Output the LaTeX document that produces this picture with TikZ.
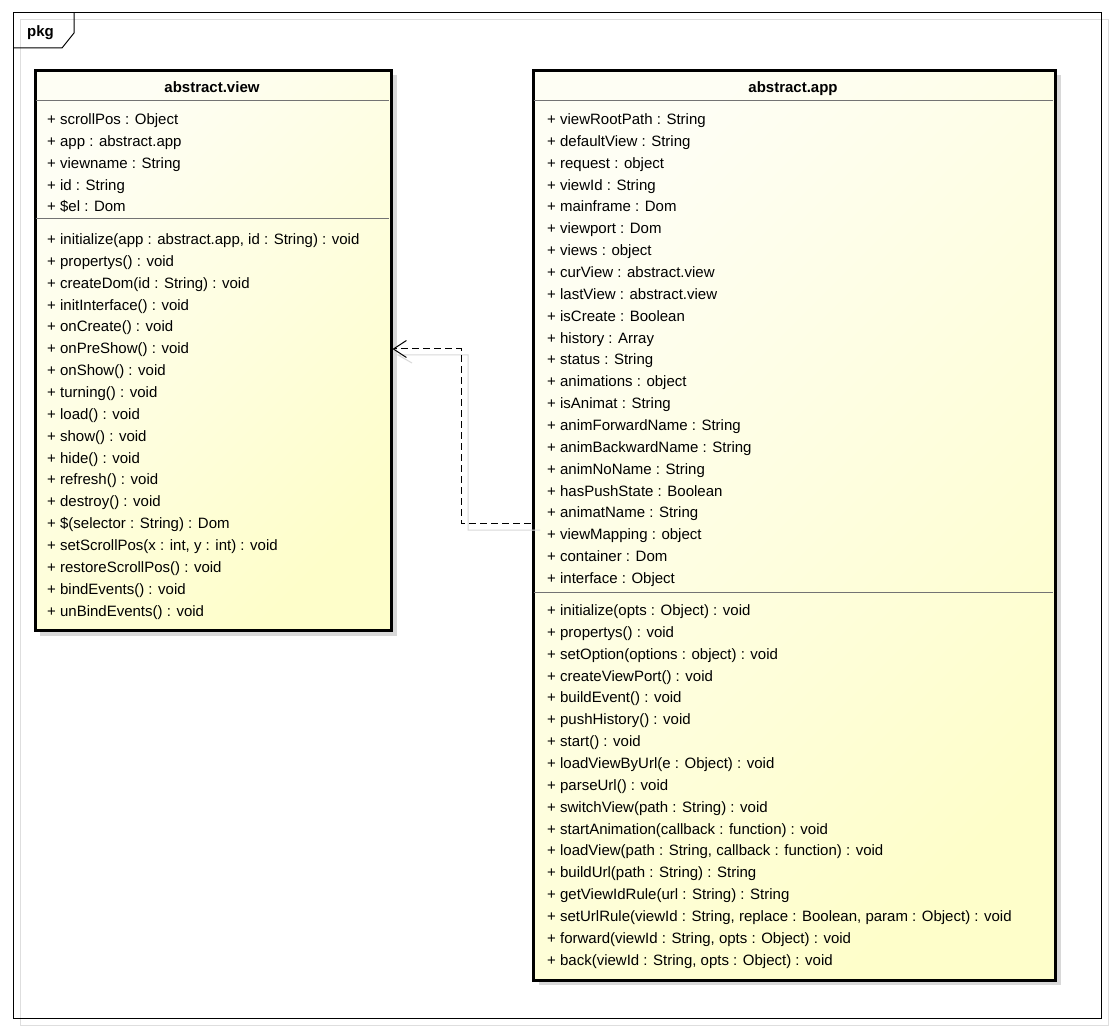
\documentclass[tikz,border=0pt]{standalone}
\usepackage{fontspec}
\setmainfont{Liberation Sans}
\usetikzlibrary{arrows.meta}
\definecolor{fillA}{RGB}{254,254,244}
\definecolor{fillB}{RGB}{254,254,202}
\definecolor{shadowgray}{RGB}{216,216,216}
\definecolor{framegray}{RGB}{222,222,222}
\tikzset{
  classbox/.style={draw=black, line width=3pt, rectangle, inner sep=0pt, anchor=north west,
    top color=fillA, bottom color=fillB, shading angle=45},
  boxshadow/.style={fill=shadowgray, draw=none},
  sepline/.style={draw=black!55, line width=1pt},
  member/.style={anchor=base west, inner sep=0pt, font=\fontsize{15}{18}\selectfont},
  title/.style={anchor=base, inner sep=0pt, font=\fontsize{15}{18}\selectfont\bfseries},
  dep/.style={draw=black, line width=1pt, dash pattern=on 7pt off 4pt, -{Straight Barb[length=13pt,width=17pt,line width=1pt]}},
  depshadow/.style={draw=shadowgray, line width=1pt},
}
\begin{document}
\begin{tikzpicture}[x=1pt,y=-1pt]
\useasboundingbox (0,0) rectangle (1114,1032);
% package frame
\draw[framegray, line width=1pt] (20,20) rectangle (1108,1025);
\draw[black, line width=1pt] (13,13) rectangle (1101,1018);
\draw[black, line width=1pt] (74,13) -- (74,33) -- (62,48) -- (13,48);
\node[title, anchor=base west] (pkg) at (27,36.5) {pkg};

% shadows
\fill[boxshadow] (40,75) rectangle (397,636);
\fill[boxshadow] (539,75) rectangle (1061,985);

% class abstract.view
\node[classbox, minimum width=356pt, minimum height=560pt] (view) at (34,69) {};
\node[title] (viewtitle) at (212,92.5) {abstract.view};
\draw[sepline] (35.5,101) -- (388.5,101);
\draw[sepline] (35.5,219) -- (388.5,219);
\foreach [count=\i from 0] \t in {
  {+ scrollPos : Object},
  {+ app : abstract.app},
  {+ viewname : String},
  {+ id : String},
  {+ \$el : Dom}}
  \node[member] (va\i) at (47,124.5+21.86*\i) {\t};
\foreach [count=\i from 0] \t in {
  {+ initialize(app : abstract.app, id : String) : void},
  {+ propertys() : void},
  {+ createDom(id : String) : void},
  {+ initInterface() : void},
  {+ onCreate() : void},
  {+ onPreShow() : void},
  {+ onShow() : void},
  {+ turning() : void},
  {+ load() : void},
  {+ show() : void},
  {+ hide() : void},
  {+ refresh() : void},
  {+ destroy() : void},
  {+ \$(selector : String) : Dom},
  {+ setScrollPos(x : int, y : int) : void},
  {+ restoreScrollPos() : void},
  {+ bindEvents() : void},
  {+ unBindEvents() : void}}
  \node[member] (vm\i) at (47,244.5+21.86*\i) {\t};

% class abstract.app
\node[classbox, minimum width=522pt, minimum height=910pt] (app) at (532,69) {};
\node[title] (apptitle) at (793,92.5) {abstract.app};
\draw[sepline] (533.5,101) -- (1052.5,101);
\draw[sepline] (533.5,592) -- (1052.5,592);
\foreach [count=\i from 0] \t in {
  {+ viewRootPath : String},
  {+ defaultView : String},
  {+ request : object},
  {+ viewId : String},
  {+ mainframe : Dom},
  {+ viewport : Dom},
  {+ views : object},
  {+ curView : abstract.view},
  {+ lastView : abstract.view},
  {+ isCreate : Boolean},
  {+ history : Array},
  {+ status : String},
  {+ animations : object},
  {+ isAnimat : String},
  {+ animForwardName : String},
  {+ animBackwardName : String},
  {+ animNoName : String},
  {+ hasPushState : Boolean},
  {+ animatName : String},
  {+ viewMapping : object},
  {+ container : Dom},
  {+ interface : Object}}
  \node[member] (aa\i) at (547,124.5+21.86*\i) {\t};
\foreach [count=\i from 0] \t in {
  {+ initialize(opts : Object) : void},
  {+ propertys() : void},
  {+ setOption(options : object) : void},
  {+ createViewPort() : void},
  {+ buildEvent() : void},
  {+ pushHistory() : void},
  {+ start() : void},
  {+ loadViewByUrl(e : Object) : void},
  {+ parseUrl() : void},
  {+ switchView(path : String) : void},
  {+ startAnimation(callback : function) : void},
  {+ loadView(path : String, callback : function) : void},
  {+ buildUrl(path : String) : String},
  {+ getViewIdRule(url : String) : String},
  {+ setUrlRule(viewId : String, replace : Boolean, param : Object) : void},
  {+ forward(viewId : String, opts : Object) : void},
  {+ back(viewId : String, opts : Object) : void}}
  \node[member] (am\i) at (547,615.5+21.86*\i) {\t};

% dependency app -> view
\coordinate (s1) at (540,530);
\coordinate (s2) at (468,530);
\coordinate (s3) at (468,355);
\coordinate (s4) at (398,355);
\coordinate (s5) at (412,363);
\draw[depshadow] (s1) -- (s2) -- (s3) -- (s4) -- (s5);
\coordinate (d1) at (461,523);
\coordinate (d2) at (461,349);
\draw[dep] ([xshift=-1.5pt]app.west |- d1) -- (d1) -- (d2) -- ([xshift=-0.5pt]view.east |- d2);
\end{tikzpicture}
\end{document}
